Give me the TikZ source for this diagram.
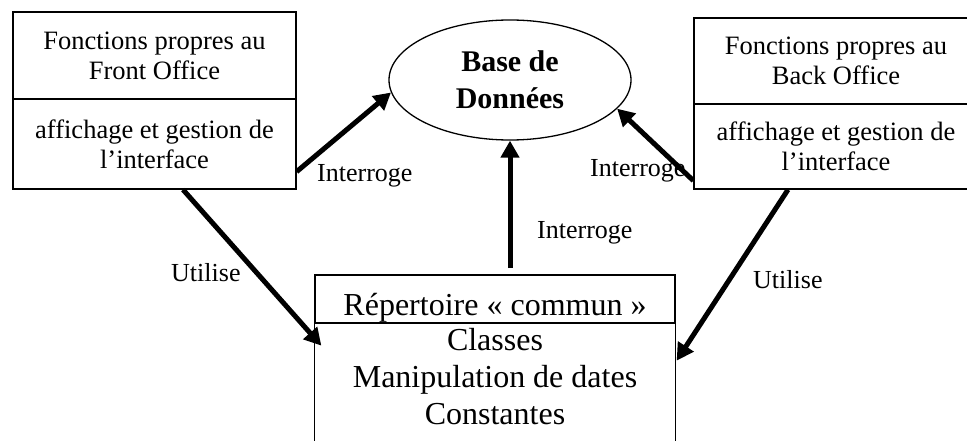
\documentclass[tikz,border=0pt]{standalone}
\usepackage{fontspec}
\setmainfont{Liberation Serif}
\usetikzlibrary{arrows.meta,shapes.geometric,calc}
\begin{document}
\begin{tikzpicture}[x=1pt,y=-1pt,
  sec/.style={draw, line width=1.3pt, inner sep=0pt, align=center,
    font=\fontsize{26.5}{30}\selectfont},
  big/.style={inner sep=0pt, align=center, font=\fontsize{32}{37}\selectfont},
  lbl/.style={inner sep=0pt, font=\fontsize{26}{30}\selectfont},
  link/.style={line width=5pt, -{Triangle[length=17pt,width=18pt]}},
]
\useasboundingbox (0,0) rectangle (967,441);
\clip (0,0) rectangle (967,441);
\fill[white] (0,0) rectangle (967,441);

% left box
\node[sec, minimum width=283pt, minimum height=87pt] (fo1) at (154.5,55.5) {Fonctions propres au\\Front Office};
\node[sec, minimum width=283pt, minimum height=90pt] (fo2) at (154.5,144) {affichage et gestion de\\l’interface};

% right box
\node[sec, minimum width=284pt, minimum height=86pt] (bo1) at (836,61) {Fonctions propres au\\Back Office};
\node[sec, minimum width=284pt, minimum height=85pt] (bo2) at (836,146.5) {affichage et gestion de\\l’interface};

% database
\node[draw, ellipse, line width=1.3pt, minimum width=242pt, minimum height=120pt, inner sep=0pt,
  align=center, font=\bfseries\fontsize{30}{37}\selectfont] (db) at (510,80) {Base de\\Données};

% bottom box
\node[draw, line width=1.3pt, minimum width=360pt, minimum height=48pt, inner sep=0pt] (rc1) at (495,299) {};
\node[big, anchor=base] (rc1t) at (495,315) {Répertoire « commun »};
\node[big] (rc2) at (495,377) {Classes\\Manipulation de dates\\Constantes};
\draw[line width=1.3pt] (rc1.south west) -- ++(0,140);
\draw[line width=1.3pt] (rc1.south east) -- ++(0,140);

% connector end points
\coordinate (mstart) at (510,268);
\coordinate (ltip) at ($(rc1.south west)+(7,22)$);
\coordinate (rtip) at ($(rc1.south east)+(1,37)$);

% connectors
\draw[link] ($(fo2.south east)+(0,-18)$) -- (db.186);
\draw[link] ($(bo2.south west)+(0,-9)$) -- (db.-15);
\draw[link] (mstart) -- (db.south);
\draw[link] ($(fo2.south)+(28.5,0)$) -- (ltip);
\draw[link] ($(bo2.south)+(-48,0)$) -- (rtip);

% labels
\node[lbl, anchor=base west] (l1) at (317,182) {Interroge};
\node[lbl, anchor=base west] (l2) at (590,176) {Interroge};
\node[lbl, anchor=base west] (l3) at (537,238) {Interroge};
\node[lbl, anchor=base west] (l4) at (171,281) {Utilise};
\node[lbl, anchor=base west] (l5) at (753,288) {Utilise};
\end{tikzpicture}
\end{document}
